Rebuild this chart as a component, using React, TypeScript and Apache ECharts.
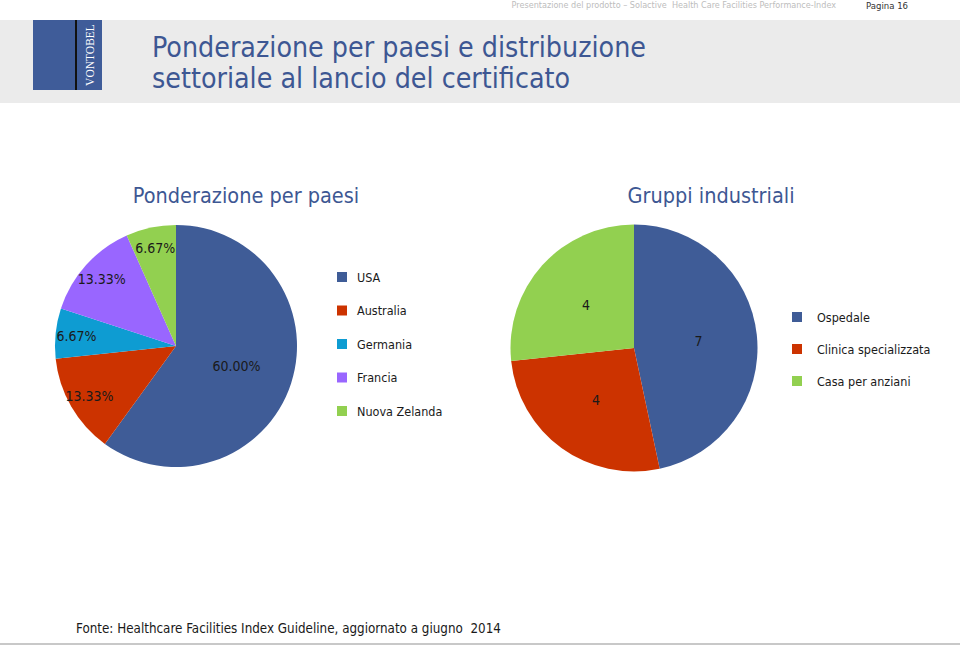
import React, { useEffect, useRef } from "react";
import * as echarts from "echarts";

const countryNames = ["USA", "Australia", "Germania", "Francia", "Nuova Zelanda"];
const countryWeights = [60.0, 13.33, 6.67, 13.33, 6.67];
const countryColors = ["#3f5c97", "#cc3300", "#0e9cd2", "#9966ff", "#92d050"];

const groupNames = ["Ospedale", "Clinica specializzata", "Casa per anziani"];
const groupCounts = [7, 4, 4];
const groupColors = ["#3f5c97", "#cc3300", "#92d050"];

const FONT = "'DejaVu Sans Condensed', 'DejaVu Sans', sans-serif";
const TITLE_BLUE = "#3d5793";

export default function App() {
  const ref = useRef<HTMLDivElement>(null);

  useEffect(() => {
    if (!ref.current) return;
    const chart = echarts.init(ref.current, undefined, { renderer: "svg" });

    const countryData = countryNames.map((n, i) => ({
      name: n,
      value: countryWeights[i],
      itemStyle: { color: countryColors[i] },
      label: { show: i === 0 },
    }));
    const countryOverlay = countryNames.map((n, i) => ({
      name: n,
      value: countryWeights[i],
      itemStyle: { color: "rgba(0,0,0,0)" },
      label: { show: i !== 0 },
    }));
    const groupData = groupNames.map((n, i) => ({
      name: n,
      value: groupCounts[i],
      itemStyle: { color: groupColors[i] },
    }));

    const labelStyle = {
      position: "inside" as const,
      fontFamily: FONT,
      fontSize: 14,
      color: "#1a1a1a",
    };

    chart.setOption({
      animation: false,
      backgroundColor: "#ffffff",
      legend: [
        {
          orient: "vertical",
          left: 337,
          top: 270,
          padding: 0,
          itemWidth: 10,
          itemHeight: 10,
          itemGap: 19.5,
          icon: "rect",
          selectedMode: false,
          data: countryNames.map((n, i) => ({ name: n, itemStyle: { color: countryColors[i] } })),
          textStyle: { fontFamily: FONT, fontSize: 12.5, color: "#1a1a1a", lineHeight: 14, padding: [0, 0, 0, 5] },
        },
        {
          orient: "vertical",
          left: 792,
          top: 310,
          padding: 0,
          itemWidth: 10,
          itemHeight: 10,
          itemGap: 18,
          icon: "rect",
          selectedMode: false,
          data: groupNames.map((n, i) => ({ name: n, itemStyle: { color: groupColors[i] } })),
          textStyle: { fontFamily: FONT, fontSize: 12.5, color: "#1a1a1a", lineHeight: 14, padding: [0, 0, 0, 10] },
        },
      ],
      series: [
        {
          type: "pie",
          center: [176, 346],
          radius: 121,
          startAngle: 90,
          clockwise: true,
          silent: true,
          data: countryData,
          label: { ...labelStyle, formatter: (p: any) => p.value.toFixed(2) + "%" },
          labelLine: { show: false },
          emphasis: { disabled: true },
        },
        {
          type: "pie",
          center: [176, 346],
          radius: [73, 121],
          startAngle: 90,
          clockwise: true,
          silent: true,
          data: countryOverlay,
          label: { ...labelStyle, formatter: (p: any) => p.value.toFixed(2) + "%" },
          labelLine: { show: false },
          emphasis: { disabled: true },
        },
        {
          type: "pie",
          center: [634, 348],
          radius: 123.5,
          startAngle: 90,
          clockwise: true,
          silent: true,
          data: groupData,
          label: { ...labelStyle, formatter: "{c}" },
          labelLine: { show: false },
          emphasis: { disabled: true },
        },
      ],
      graphic: [
        { type: "rect", shape: { x: 0, y: 20, width: 960, height: 83 }, style: { fill: "#ebebeb" }, z: -10 },
        { type: "rect", shape: { x: 33, y: 20, width: 69, height: 70 }, style: { fill: "#3f5c99" } },
        { type: "rect", shape: { x: 75, y: 20, width: 2, height: 70 }, style: { fill: "#111111" } },
        {
          type: "text",
          x: 90,
          y: 55,
          rotation: Math.PI / 2,
          style: {
            text: "VONTOBEL",
            fontFamily: "'Liberation Serif', 'DejaVu Serif', serif",
            fontSize: 11.5,
            fill: "#ffffff",
            align: "center",
            verticalAlign: "middle",
          },
        },
        {
          type: "text",
          x: 836,
          y: 5,
          style: {
            text: "Presentazione del prodotto \u2013 Solactive  Health Care Facilities Performance-Index",
            fontFamily: FONT,
            fontSize: 9,
            fill: "#bdbdbd",
            align: "right",
            verticalAlign: "middle",
          },
        },
        {
          type: "text",
          x: 866,
          y: 5,
          style: { text: "Pagina 16", fontFamily: FONT, fontSize: 9.5, fill: "#333333", verticalAlign: "middle" },
        },
        {
          type: "text",
          x: 152,
          y: 47,
          style: { text: "Ponderazione per paesi e distribuzione", fontFamily: FONT, fontSize: 28.3, fill: TITLE_BLUE, verticalAlign: "middle" },
        },
        {
          type: "text",
          x: 152,
          y: 78,
          style: { text: "settoriale al lancio del certificato", fontFamily: FONT, fontSize: 28.3, fill: TITLE_BLUE, verticalAlign: "middle" },
        },
        {
          type: "text",
          x: 246,
          y: 195,
          style: { text: "Ponderazione per paesi", fontFamily: FONT, fontSize: 21.5, fill: TITLE_BLUE, align: "center", verticalAlign: "middle" },
        },
        {
          type: "text",
          x: 711,
          y: 195,
          style: { text: "Gruppi industriali", fontFamily: FONT, fontSize: 21.5, fill: TITLE_BLUE, align: "center", verticalAlign: "middle" },
        },
        {
          type: "text",
          x: 76,
          y: 628,
          style: {
            text: "Fonte: Healthcare Facilities Index Guideline, aggiornato a giugno  2014",
            fontFamily: FONT,
            fontSize: 13.3,
            fill: "#1a1a1a",
            verticalAlign: "middle",
          },
        },
        { type: "rect", shape: { x: 0, y: 643, width: 960, height: 2 }, style: { fill: "#c8c8c8" } },
      ],
    });

    return () => chart.dispose();
  }, []);

  return <div ref={ref} style={{ position: "absolute", left: 0, top: 0, width: 960, height: 646 }} />;
}
